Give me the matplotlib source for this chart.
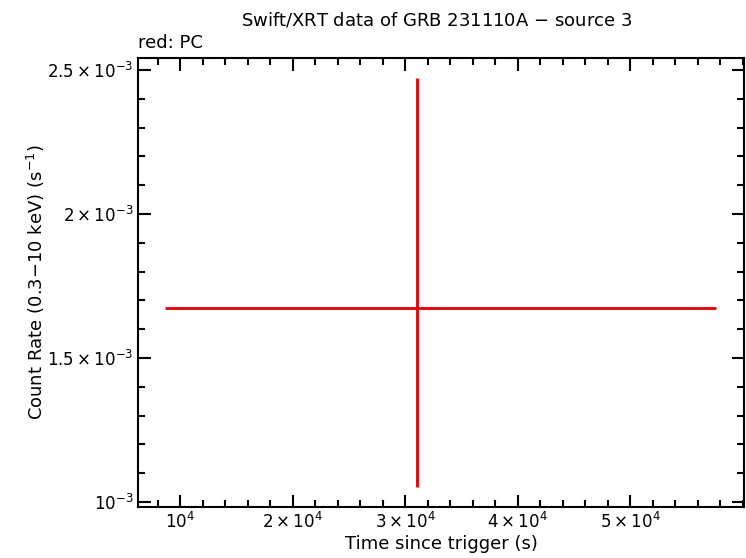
import matplotlib
matplotlib.use("Agg")
import matplotlib.pyplot as plt
from matplotlib.ticker import FixedLocator, MultipleLocator

x = [3.107e4]
xlo = [8.67e3]
xhi = [5.76e4]
y = [1.6736e-3]
ylo = [1.052e-3]
yhi = [2.472e-3]

xticks = [1e4, 2e4, 3e4, 4e4, 5e4]
xlabels = [r"$10^4$", r"$2\times10^4$", r"$3\times10^4$", r"$4\times10^4$", r"$5\times10^4$"]
yticks = [1e-3, 1.5e-3, 2e-3, 2.5e-3]
ylabels = [r"$10^{-3}$", r"$1.5\times10^{-3}$", r"$2\times10^{-3}$", r"$2.5\times10^{-3}$"]

fig = plt.figure(figsize=(7.46, 5.58), dpi=100)
ax = fig.add_axes([138/746, 1-507/558, (744-138)/746, (507-58)/558])
xerr = [[x[0]-xlo[0]], [xhi[0]-x[0]]]
yerr = [[y[0]-ylo[0]], [yhi[0]-y[0]]]
ax.errorbar(x, y, xerr=xerr, yerr=yerr, fmt='none', ecolor='#e00000', elinewidth=2, capsize=0)
ax.set_xlim(6267, 6.01e4)
ax.set_ylim(0.98264e-3, 2.5417e-3)
ax.xaxis.set_major_locator(FixedLocator(xticks))
ax.set_xticklabels(xlabels)
ax.yaxis.set_major_locator(FixedLocator(yticks))
ax.set_yticklabels(ylabels)
ax.xaxis.set_minor_locator(MultipleLocator(2000))
ax.yaxis.set_minor_locator(MultipleLocator(1e-4))
ax.tick_params(which='both', direction='in', top=True, right=True, labelsize=12, width=1.5)
ax.tick_params(which='major', length=9)
ax.tick_params(which='minor', length=5)
for s in ax.spines.values():
    s.set_linewidth(1.5)
ax.set_xlabel("Time since trigger (s)", fontsize=13, labelpad=2)
ax.set_ylabel(r"Count Rate (0.3$-$10 keV) (s$^{-1}$)", fontsize=13)
ax.yaxis.set_label_coords(-0.15, 0.5)
fig.text(437/746, 1-20/558, r"Swift/XRT data of GRB 231110A $-$ source 3", ha='center', va='center', fontsize=13)
fig.text(138/746, 1-43/558, "red: PC", ha='left', va='center', fontsize=13)
fig.savefig("out.png", dpi=100)
